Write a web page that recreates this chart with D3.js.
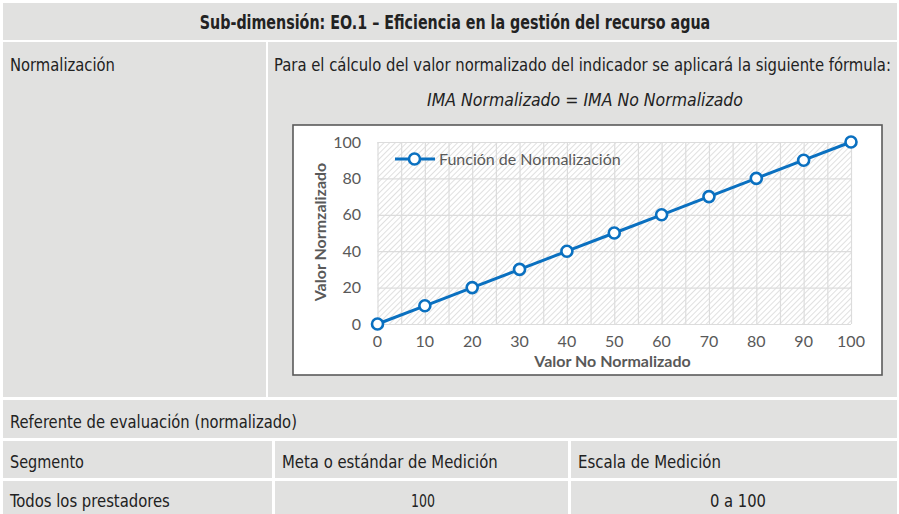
<!DOCTYPE html>
<html>
<head>
<meta charset="utf-8">
<script src="https://cdn.jsdelivr.net/npm/d3@7"></script>
<style>
  html, body { margin: 0; padding: 0; background: #fff; }
  svg { display: block; }
  .cell-text { font-family: "Liberation Sans Narrow", "DejaVu Sans Condensed", sans-serif; fill: #222; }
  .chart-text { font-family: Lato, "Open Sans", sans-serif; fill: #595959; }
</style>
</head>
<body>
<div id="chart"></div>
<script>
(function(){
    // chart data
    const xValues = [0, 10, 20, 30, 40, 50, 60, 70, 80, 90, 100];
    const yValues = [0, 10, 20, 30, 40, 50, 60, 70, 80, 90, 100];
    const xTicks = [0, 10, 20, 30, 40, 50, 60, 70, 80, 90, 100];
    const yTicks = [0, 20, 40, 60, 80, 100];
    const seriesName = 'Función de Normalización';
    const xTitle = 'Valor No Normalizado';
    const yTitle = 'Valor Normzalizado';

    // table texts
    const headerText = 'Sub-dimensión: EO.1 – Eficiencia en la gestión del recurso agua';
    const rowLabels = ['Normalización', 'Referente de evaluación (normalizado)'];
    const introText = 'Para el cálculo del valor normalizado del indicador se aplicará la siguiente fórmula:';
    const formulaText = 'IMA Normalizado = IMA No Normalizado';
    const tableHead = ['Segmento', 'Meta o estándar de Medición', 'Escala de Medición'];
    const tableRow = ['Todos los prestadores', '100', '0 a 100'];

    const W = 899, H = 514;
    const cellFill = '#e1e1e0';

    const svg = d3.select('#chart')
        .append('svg')
            .attr('width', W)
            .attr('height', H);

    // ---- table cells ----
    const cells = [
        [3, 3, 894, 37],      // header
        [3, 42, 263, 355],    // Normalización
        [268, 42, 629, 355],  // formula + chart
        [3, 400, 894, 38],    // referente
        [3, 441, 269, 37],
        [275, 441, 293, 37],
        [571, 441, 326, 37],
        [3, 481, 269, 33],
        [275, 481, 293, 33],
        [571, 481, 326, 33]
    ];
    svg.selectAll('.cell')
        .data(cells)
        .enter()
        .append('rect')
            .attr('class', 'cell')
            .attr('x', d => d[0])
            .attr('y', d => d[1])
            .attr('width', d => d[2])
            .attr('height', d => d[3])
            .style('fill', cellFill);

    // text squeezed horizontally to the width seen in the picture
    function cellText(txt, x, y, opts) {
        opts = opts || {};
        const t = svg.append('text')
            .attr('class', 'cell-text')
            .attr('x', 0)
            .attr('y', 0)
            .attr('text-anchor', opts.anchor || 'start')
            .style('font-size', (opts.size || 18) + 'px')
            .style('font-weight', opts.bold ? 'bold' : 'normal')
            .style('font-style', opts.italic ? 'italic' : 'normal')
            .text(txt);
        let k = 1;
        if (opts.len) {
            k = opts.len / t.node().getComputedTextLength();
        }
        t.attr('transform', `translate(${x}, ${y}) scale(${k}, 1)`);
        return t;
    }

    cellText(headerText, 455, 29, {anchor: 'middle', size: 19.5, bold: true, len: 511});
    cellText(rowLabels[0], 10, 71, {len: 105});
    cellText(introText, 274, 71, {size: 17.5, len: 617});
    cellText(formulaText, 585, 106, {anchor: 'middle', italic: true, len: 316});
    cellText(rowLabels[1], 10, 428, {len: 287});
    cellText(tableHead[0], 10, 468, {len: 74});
    cellText(tableHead[1], 282, 468, {len: 216});
    cellText(tableHead[2], 578, 468, {len: 143});
    cellText(tableRow[0], 10, 507, {len: 160});
    cellText(tableRow[1], 423, 507, {anchor: 'middle', len: 24});
    cellText(tableRow[2], 738, 507, {anchor: 'middle', len: 56});

    // ---- chart ----
    const box = {x: 293, y: 125, w: 589, h: 250};
    svg.append('rect')
        .attr('x', box.x)
        .attr('y', box.y)
        .attr('width', box.w)
        .attr('height', box.h)
        .style('fill', '#fff')
        .style('stroke', '#5a5a5a')
        .style('stroke-width', 1.6);

    const xScale = d3.scaleLinear()
        .domain([0, 100])
        .range([377.5, 851]);
    const yScale = d3.scaleLinear()
        .domain([0, 100])
        .range([324, 142]);

    // hatch pattern
    const defs = svg.append('defs');
    const pat = defs.append('pattern')
        .attr('id', 'hatch')
        .attr('patternUnits', 'userSpaceOnUse')
        .attr('width', 4)
        .attr('height', 4)
        .attr('patternTransform', 'rotate(45)');
    pat.append('rect').attr('width', 4).attr('height', 4).style('fill', '#fff');
    pat.append('line')
        .attr('x1', 0).attr('y1', 0).attr('x2', 0).attr('y2', 4)
        .style('stroke', '#cfcfcf')
        .style('stroke-width', 1.3);

    svg.append('rect')
        .attr('x', xScale(0))
        .attr('y', yScale(100))
        .attr('width', xScale(100) - xScale(0))
        .attr('height', yScale(0) - yScale(100))
        .style('fill', 'url(#hatch)');

    // gridlines
    const g = svg.append('g');
    g.append('g')
        .attr('transform', `translate(0, ${yScale(0)})`)
        .call(d3.axisBottom(xScale).tickValues(d3.range(0, 101, 5)).tickSize(-(yScale(0) - yScale(100))).tickFormat(''))
        .call(s => s.select('.domain').remove())
        .call(s => s.selectAll('line').style('stroke', '#dcdcdc').style('stroke-width', 1.2));
    g.append('g')
        .attr('transform', `translate(${xScale(0)}, 0)`)
        .call(d3.axisLeft(yScale).tickValues(yTicks).tickSize(-(xScale(100) - xScale(0))).tickFormat(''))
        .call(s => s.select('.domain').remove())
        .call(s => s.selectAll('line').style('stroke', '#dcdcdc').style('stroke-width', 1.2));

    // tick labels
    svg.selectAll('.ylab')
        .data(yTicks)
        .enter()
        .append('text')
            .attr('class', 'chart-text')
            .attr('x', 361)
            .attr('y', d => yScale(d))
            .attr('dy', '0.35em')
            .attr('text-anchor', 'end')
            .style('font-size', '16px')
            .text(d => d);
    svg.selectAll('.xlab')
        .data(xTicks)
        .enter()
        .append('text')
            .attr('class', 'chart-text')
            .attr('x', d => xScale(d))
            .attr('y', 346.5)
            .attr('text-anchor', 'middle')
            .style('font-size', '16px')
            .text(d => d);

    // axis titles
    svg.append('text')
        .attr('class', 'chart-text')
        .attr('x', 612.5)
        .attr('y', 367)
        .attr('text-anchor', 'middle')
        .style('font-size', '16px')
        .style('font-weight', 'bold')
        .text(xTitle);
    svg.append('text')
        .attr('class', 'chart-text')
        .attr('transform', 'translate(326, 232) rotate(-90)')
        .attr('text-anchor', 'middle')
        .style('font-size', '16px')
        .style('font-weight', 'bold')
        .text(yTitle);

    // series
    const pts = xValues.map((x, i) => ({x: x, y: yValues[i]}));
    const blue = '#0a70c0';
    svg.append('path')
        .datum(pts)
        .attr('d', d3.line().x(d => xScale(d.x)).y(d => yScale(d.y)))
        .style('fill', 'none')
        .style('stroke', blue)
        .style('stroke-width', 3);
    svg.selectAll('.pt')
        .data(pts)
        .enter()
        .append('circle')
            .attr('class', 'pt')
            .attr('cx', d => xScale(d.x))
            .attr('cy', d => yScale(d.y))
            .attr('r', 5.5)
            .style('fill', '#fff')
            .style('stroke', blue)
            .style('stroke-width', 2.6);

    // legend
    const lg = svg.append('g').attr('transform', 'translate(395, 159)');
    lg.append('line')
        .attr('x1', 0).attr('x2', 40)
        .style('stroke', blue)
        .style('stroke-width', 3);
    lg.append('circle')
        .attr('cx', 19.5)
        .attr('r', 5.5)
        .style('fill', '#fff')
        .style('stroke', blue)
        .style('stroke-width', 2.6);
    lg.append('text')
        .attr('class', 'chart-text')
        .attr('x', 44)
        .attr('dy', '0.35em')
        .style('font-size', '16px')
        .text(seriesName);
}())
</script>
</body>
</html>
